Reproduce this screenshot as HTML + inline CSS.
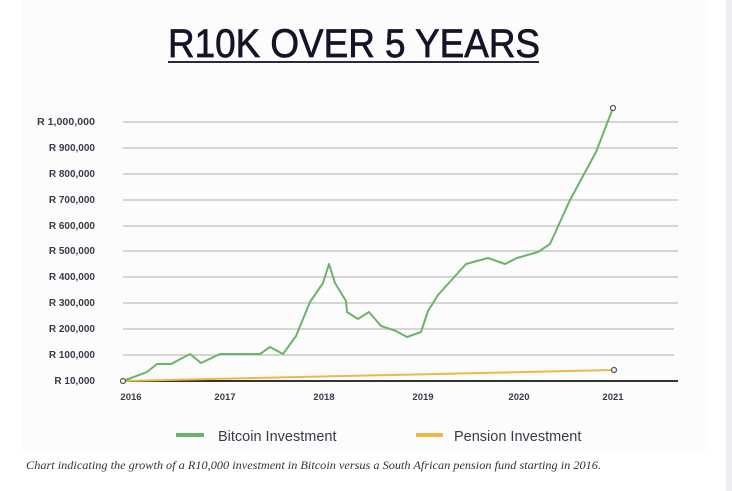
<!DOCTYPE html>
<html><head><meta charset="utf-8"><style>
html,body{margin:0;padding:0;background:#fff;}
svg{display:block;}
</style></head><body>
<svg width="732" height="491" viewBox="0 0 732 491" xmlns="http://www.w3.org/2000/svg">
<rect x="0" y="0" width="732" height="491" fill="#ffffff"/>
<rect x="22" y="0" width="686" height="452" fill="#fcfcfc"/>
<rect x="726" y="0" width="6" height="491" fill="#eceef2"/>
<text x="168" y="57" font-family="Liberation Sans, sans-serif" font-size="40" fill="#141428" stroke="#141428" stroke-width="0.7" textLength="372" lengthAdjust="spacingAndGlyphs">R10K OVER 5 YEARS</text>
<rect x="168" y="61" width="371" height="2" fill="#2a2a40"/>
<g stroke="#c8c8c8" stroke-width="1.6">
<line x1="123" y1="122" x2="678" y2="122"/>
<line x1="123" y1="148" x2="678" y2="148"/>
<line x1="123" y1="174" x2="678" y2="174"/>
<line x1="123" y1="200" x2="678" y2="200"/>
<line x1="123" y1="226" x2="678" y2="226"/>
<line x1="123" y1="251" x2="678" y2="251"/>
<line x1="123" y1="277" x2="678" y2="277"/>
<line x1="123" y1="303" x2="678" y2="303"/>
<line x1="123" y1="329" x2="674" y2="329"/>
<line x1="123" y1="355" x2="674" y2="355"/>
</g>
<line x1="123" y1="381" x2="678" y2="381" stroke="#333" stroke-width="2"/>
<g font-family="Liberation Sans, sans-serif" font-size="10" font-weight="bold" fill="#3a3a48" text-anchor="end">
<text x="95" y="125" textLength="58" lengthAdjust="spacingAndGlyphs">R 1,000,000</text>
<text x="95" y="151">R 900,000</text>
<text x="95" y="177">R 800,000</text>
<text x="95" y="203">R 700,000</text>
<text x="95" y="229">R 600,000</text>
<text x="95" y="254">R 500,000</text>
<text x="95" y="280">R 400,000</text>
<text x="95" y="306">R 300,000</text>
<text x="95" y="332">R 200,000</text>
<text x="95" y="358">R 100,000</text>
<text x="95" y="384">R 10,000</text>
</g>
<g font-family="Liberation Sans, sans-serif" font-size="9.5" font-weight="bold" fill="#3a3a48" text-anchor="middle">
<text x="131" y="400">2016</text>
<text x="225" y="400">2017</text>
<text x="324" y="400">2018</text>
<text x="423" y="400">2019</text>
<text x="519" y="400">2020</text>
<text x="613" y="400">2021</text>
</g>
<polyline fill="none" stroke="#f0b64a" stroke-width="2" points="123,381 613,370"/>
<polyline fill="none" stroke="#6ab46a" stroke-width="2" stroke-linejoin="round" points="123,381 147,372 157,364 171,364 190,354 201,363 220,354 260,354 270,347 283,354 296,336 310,302 323,283 329,264 335,283 346,301 347,312 358,319 369,312 381,326 396,331 407,337 421,332 428,311 438,295 466,264 488,258 505,264 517,258 538,252 550,244 570,200 596,152 613,108"/>
<circle cx="123" cy="381" r="2.5" fill="#fff" stroke="#555" stroke-width="1.2"/>
<circle cx="613" cy="108" r="2.5" fill="#fff" stroke="#555" stroke-width="1.2"/>
<circle cx="614" cy="370" r="2.5" fill="#fff" stroke="#555" stroke-width="1.2"/>
<rect x="176" y="433" width="28" height="4" fill="#6ab46a"/>
<text x="218" y="441" font-family="Liberation Sans, sans-serif" font-size="14.5" fill="#3a3a48">Bitcoin Investment</text>
<rect x="416" y="433" width="27" height="4" fill="#f0b64a"/>
<text x="454" y="441" font-family="Liberation Sans, sans-serif" font-size="14.5" fill="#3a3a48">Pension Investment</text>
<text x="26" y="469" font-family="Liberation Serif, serif" font-style="italic" font-size="11.5" fill="#333" textLength="575" lengthAdjust="spacingAndGlyphs">Chart indicating the growth of a R10,000 investment in Bitcoin versus a South African pension fund starting in 2016.</text>
</svg>
</body></html>
